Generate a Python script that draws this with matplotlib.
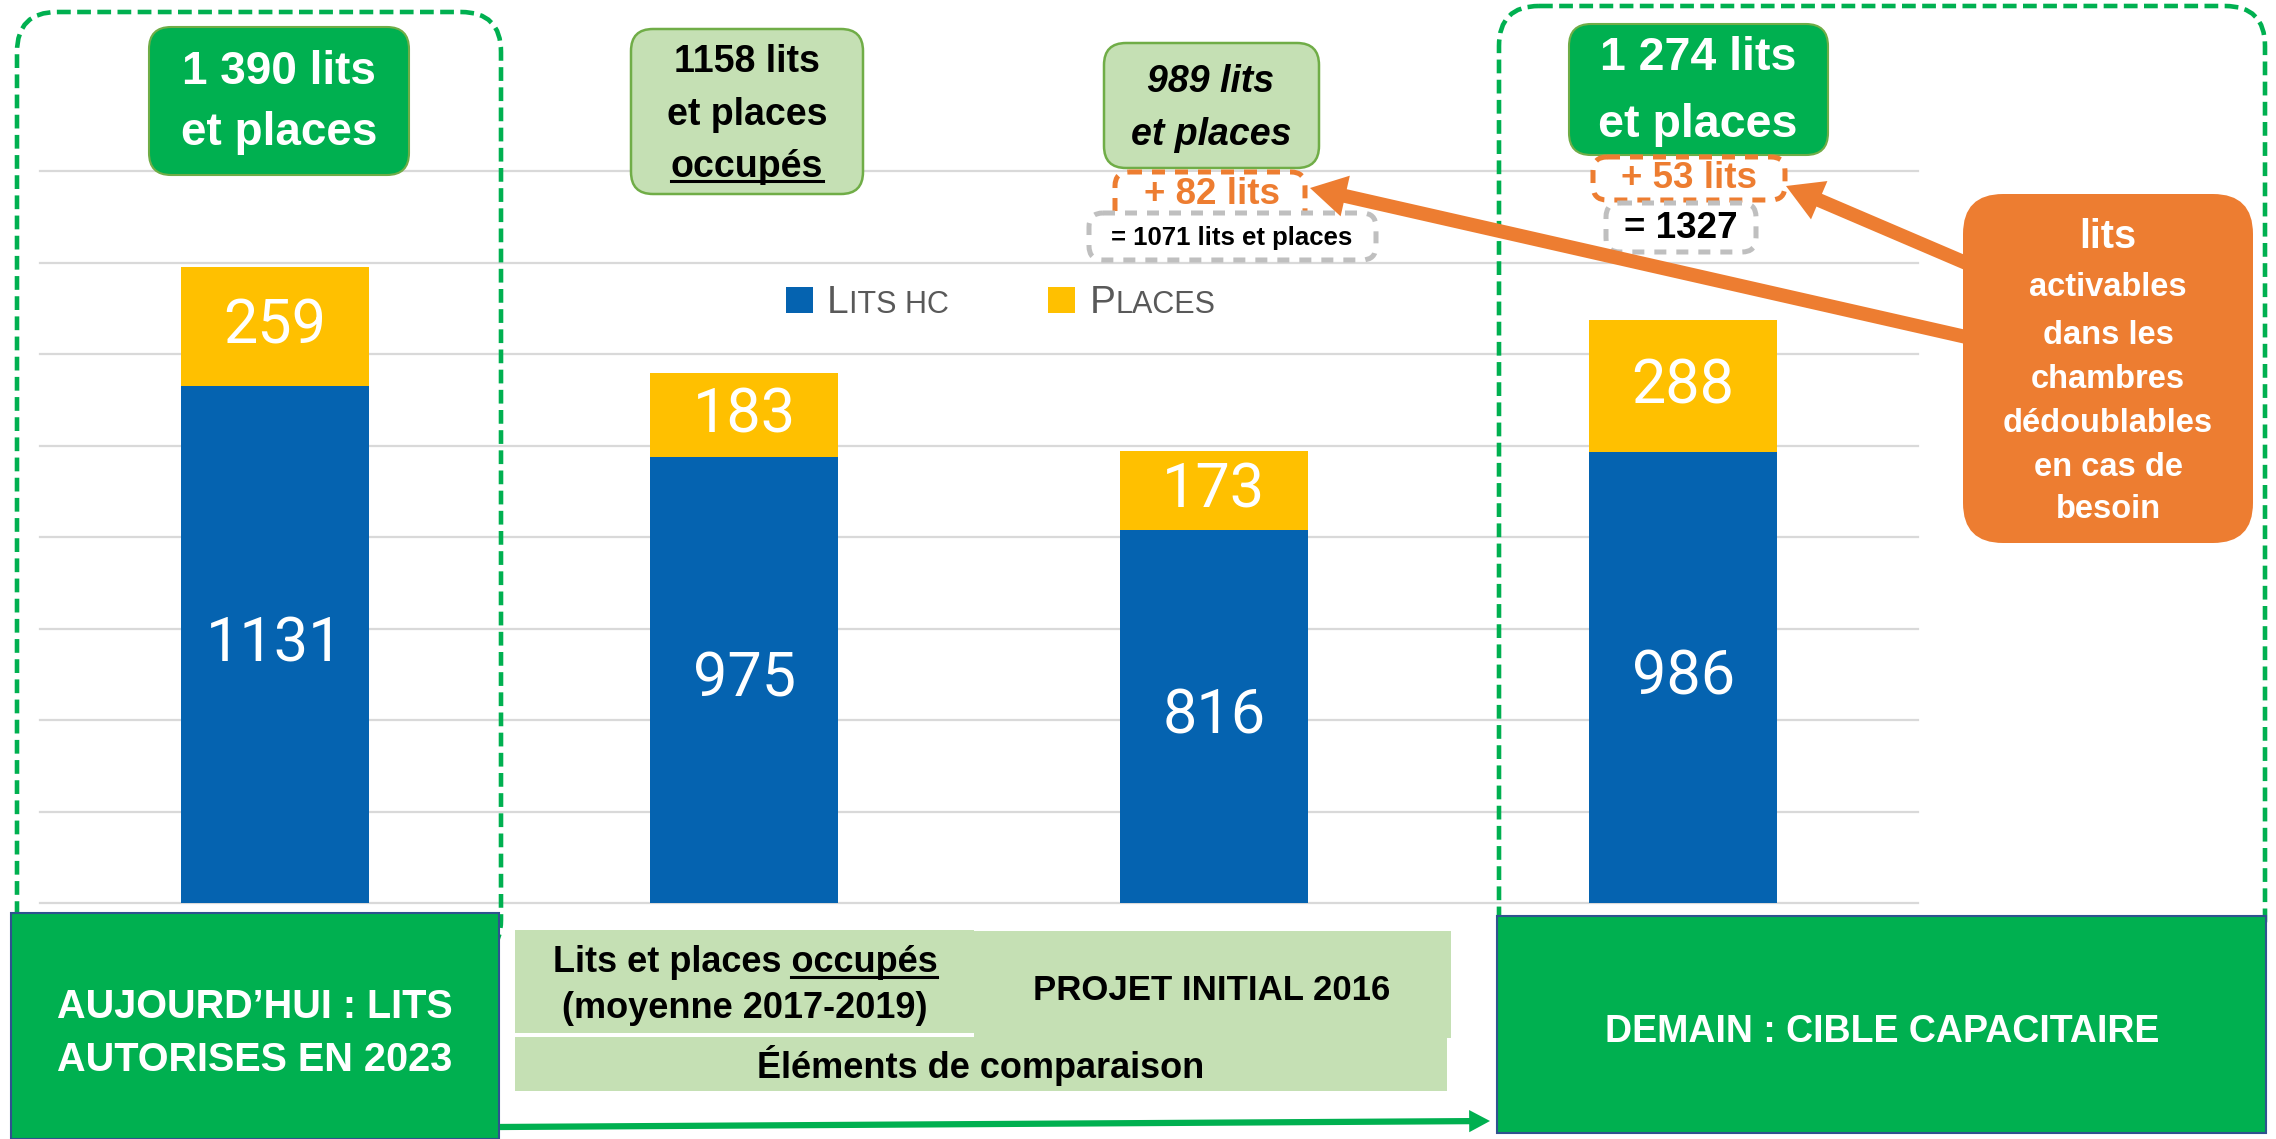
import matplotlib
matplotlib.use("Agg")
import matplotlib.pyplot as plt
import numpy as np
from matplotlib.patches import FancyBboxPatch, Rectangle, FancyArrowPatch
from matplotlib.transforms import Affine2D
from matplotlib.lines import Line2D

# --- data ---
categories = ["Aujourd'hui 2023", "Occupés 2017-2019", "Projet initial 2016", "Demain"]
lits_hc = [1131, 975, 816, 986]
places = [259, 183, 173, 288]
total_lines = [["1 390 lits", "et places"],
               ["1158 lits", "et places", "occupés"],
               ["989 lits", "et places"],
               ["1 274 lits", "et places"]]
extra_lits = ["+ 82 lits", "+ 53 lits"]
extra_totals = ["= 1071 lits et places", "= 1327"]
note_lines = ["lits", "activables", "dans les", "chambres", "dédoublables", "en cas de", "besoin"]
legend_labels = [("L", "ITS HC"), ("P", "LACES")]

BLUE = "#0563B0"
YELLOW = "#FFC000"
GREEN = "#00B050"
LGREEN = "#C5E0B4"
LGREEN_EDGE = "#70AD47"
ORANGE = "#ED7D31"
GREY = "#BFBFBF"
GRID = "#D9D9D9"

plt.rcParams['font.family'] = ['Liberation Sans', 'DejaVu Sans']

W, H, DPI = 2276, 1139, 100
fig = plt.figure(figsize=(W / DPI, H / DPI), dpi=DPI, facecolor="white")
# pixel coords, origin top-left
px = Affine2D().scale(1 / DPI, -1 / DPI).translate(0, H / DPI) + fig.dpi_scale_trans

# --- bar chart ---
ax = fig.add_axes([40 / W, 1 - 903 / H, 1878 / W, 732 / H])
x = np.arange(len(categories))
ax.bar(x, lits_hc, 0.4, color=BLUE, zorder=3)
ax.bar(x, places, 0.4, bottom=lits_hc, color=YELLOW, zorder=3)
for i in x:
    ax.text(i, lits_hc[i] / 2, str(lits_hc[i]), ha="center", va="center", color="white",
            fontsize=44, family=["Roboto", "DejaVu Sans"], zorder=4)
    ax.text(i, lits_hc[i] + places[i] / 2, str(places[i]), ha="center", va="center",
            color="white", fontsize=44, family=["Roboto", "DejaVu Sans"], zorder=4)
ax.set_xlim(-0.5, 3.5)
ax.set_ylim(0, 1600)
ax.set_yticks(range(0, 1601, 200))
ax.grid(axis="y", color=GRID, lw=1.6)
for gl in ax.yaxis.get_gridlines():
    gl.set_clip_on(False)
ax.set_axisbelow(True)
ax.tick_params(left=False, bottom=False, labelleft=False, labelbottom=False)
for s in ax.spines.values():
    s.set_visible(False)
ax.patch.set_alpha(0)


def rbox(x0, y0, x1, y1, r, z=2, **kw):
    p = FancyBboxPatch((x0, y0), x1 - x0, y1 - y0, boxstyle=f"round,pad=0,rounding_size={r}",
                       transform=px, zorder=z, **kw)
    fig.add_artist(p)
    return p


def rect(x0, y0, x1, y1, z=2, **kw):
    p = Rectangle((x0, y0), x1 - x0, y1 - y0, transform=px, zorder=z, **kw)
    fig.add_artist(p)
    return p


def txt(xc, yc, s, z=6, **kw):
    return fig.text(xc, yc, s, transform=px, ha=kw.pop("ha", "center"), va=kw.pop("va", "center"),
                    zorder=z, **kw)


renderer = fig.canvas.get_renderer()


def underline(t, word, color, lw=2.2):
    bb = t.get_window_extent(renderer)
    tmp = fig.text(0, 0, word, fontproperties=t.get_fontproperties())
    wb = tmp.get_window_extent(renderer)
    tmp.remove()
    em = t.get_fontsize() * DPI / 72
    y = H - (bb.y0 + 0.1 * em)
    fig.add_artist(Line2D([bb.x1 - wb.width, bb.x1], [y, y], transform=px, color=color,
                          lw=lw, zorder=7))


# dashed frames
rbox(17, 12, 501, 960, 40, z=1.5, fc="none", ec=GREEN, lw=3.3, ls=(0, (3, 1.4)))
rbox(1499, 6, 2265, 960, 40, z=1.5, fc="none", ec=GREEN, lw=3.3, ls=(0, (3, 1.4)))

# total boxes
rbox(149, 27, 409, 175, 22, fc=GREEN, ec=LGREEN_EDGE, lw=1.5)
for s, yy in zip(total_lines[0], [72, 133]):
    txt(279, yy, s, fontsize=33, weight="bold", color="white")

rbox(631, 29, 863, 194, 22, fc=LGREEN, ec=LGREEN_EDGE, lw=1.8)
for s, yy in zip(total_lines[1], [62, 115, 167]):
    t = txt(747, yy, s, fontsize=27, weight="bold", color="black")
underline(t, total_lines[1][2], "black", lw=2.2)

rbox(1104, 43, 1319, 168, 22, fc=LGREEN, ec=LGREEN_EDGE, lw=1.8)
for s, yy in zip(total_lines[2], [82, 135]):
    txt(1211, yy, s, fontsize=27, weight="bold", style="italic", color="black")

rbox(1569, 24, 1828, 155, 22, fc=GREEN, ec=LGREEN_EDGE, lw=1.5)
for s, yy in zip(total_lines[3], [58, 125]):
    txt(1698, yy, s, fontsize=33.5, weight="bold", color="white")

# extra beds boxes
rbox(1115, 172, 1305, 235, 14, z=3, fc="white", ec=ORANGE, lw=3.6, ls=(0, (2.6, 2)))
txt(1212, 195, extra_lits[0], fontsize=26.5, weight="bold", color=ORANGE)
rbox(1089, 213, 1376, 260, 14, z=4, fc="white", ec=GREY, lw=3.6, ls=(0, (2.4, 2)))
txt(1232, 238, extra_totals[0], fontsize=18.5, weight="bold", color="black")

rbox(1593, 157, 1785, 200, 14, z=3, fc="white", ec=ORANGE, lw=3.6, ls=(0, (2.6, 2)))
txt(1689, 178, extra_lits[1], fontsize=26.5, weight="bold", color=ORANGE)
rbox(1606, 203, 1756, 252, 14, z=4, fc="white", ec=GREY, lw=3.6, ls=(0, (2.4, 2)))
txt(1681, 229, extra_totals[1], fontsize=26.5, weight="bold", color="black")

# orange arrows + note
for a, b in [((1966, 337), (1310, 188)), ((1966, 263), (1786, 186))]:
    fig.add_artist(FancyArrowPatch(a, b, transform=px, color=ORANGE, lw=0, zorder=5,
                                   shrinkA=0, shrinkB=0, mutation_scale=20,
                                   arrowstyle="simple,head_length=1.3,head_width=1.5,tail_width=0.5"))
rbox(1963, 194, 2253, 543, 40, z=5.5, fc=ORANGE, ec="none")
for s, yy in zip(note_lines, [237, 288, 335, 380, 424, 467, 510]):
    txt(2108, yy, s, fontsize=28.5 if s == "lits" else 23.5, weight="bold", color="white")

# legend
lx = [(786, 827), (1048, 1090)]
for (sx, tx), (big, small), c in zip(lx, legend_labels, [BLUE, YELLOW]):
    rect(sx, 287, sx + 27, 313, fc=c, ec="none")
    t1 = txt(tx, 313, big, ha="left", va="baseline", fontsize=28, color="#595959")
    bb = t1.get_window_extent(renderer)
    txt(bb.x1, 313, small, ha="left", va="baseline", fontsize=22, color="#595959")

# bottom category boxes
rect(11, 913, 499, 1139, z=3, fc=GREEN, ec="#2F528F", lw=1.5)
txt(255, 1007, "AUJOURD’HUI : LITS", fontsize=28.5, weight="bold", color="white")
txt(255, 1060, "AUTORISES EN 2023", fontsize=28.5, weight="bold", color="white")

rect(515, 930, 974, 1033, fc=LGREEN, ec="none")
rect(974, 931, 1451, 1038, fc=LGREEN, ec="none")
rect(515, 1037, 1447, 1091, fc=LGREEN, ec="none")
t = txt(745, 963, "Lits et places occupés", fontsize=26, weight="bold", color="black")
underline(t, "occupés", "black", lw=2.2)
txt(745, 1008, "(moyenne 2017-2019)", fontsize=26, weight="bold", color="black")
txt(1212, 990, "PROJET INITIAL 2016", fontsize=25, weight="bold", color="black")
txt(981, 1065, "Éléments de comparaison", fontsize=26, weight="bold", color="black")

rect(1497, 916, 2266, 1133, z=3, fc=GREEN, ec="#2F528F", lw=1.5)
txt(1882, 1032, "DEMAIN : CIBLE CAPACITAIRE", fontsize=27, weight="bold", color="white")

fig.add_artist(FancyArrowPatch((500, 1127), (1490, 1121), transform=px, color=GREEN, lw=0,
                               zorder=5, shrinkA=0, shrinkB=0, mutation_scale=10,
                               arrowstyle="simple,head_length=1.5,head_width=1.6,tail_width=0.45"))

fig.savefig("out.png", dpi=DPI, facecolor="white")
